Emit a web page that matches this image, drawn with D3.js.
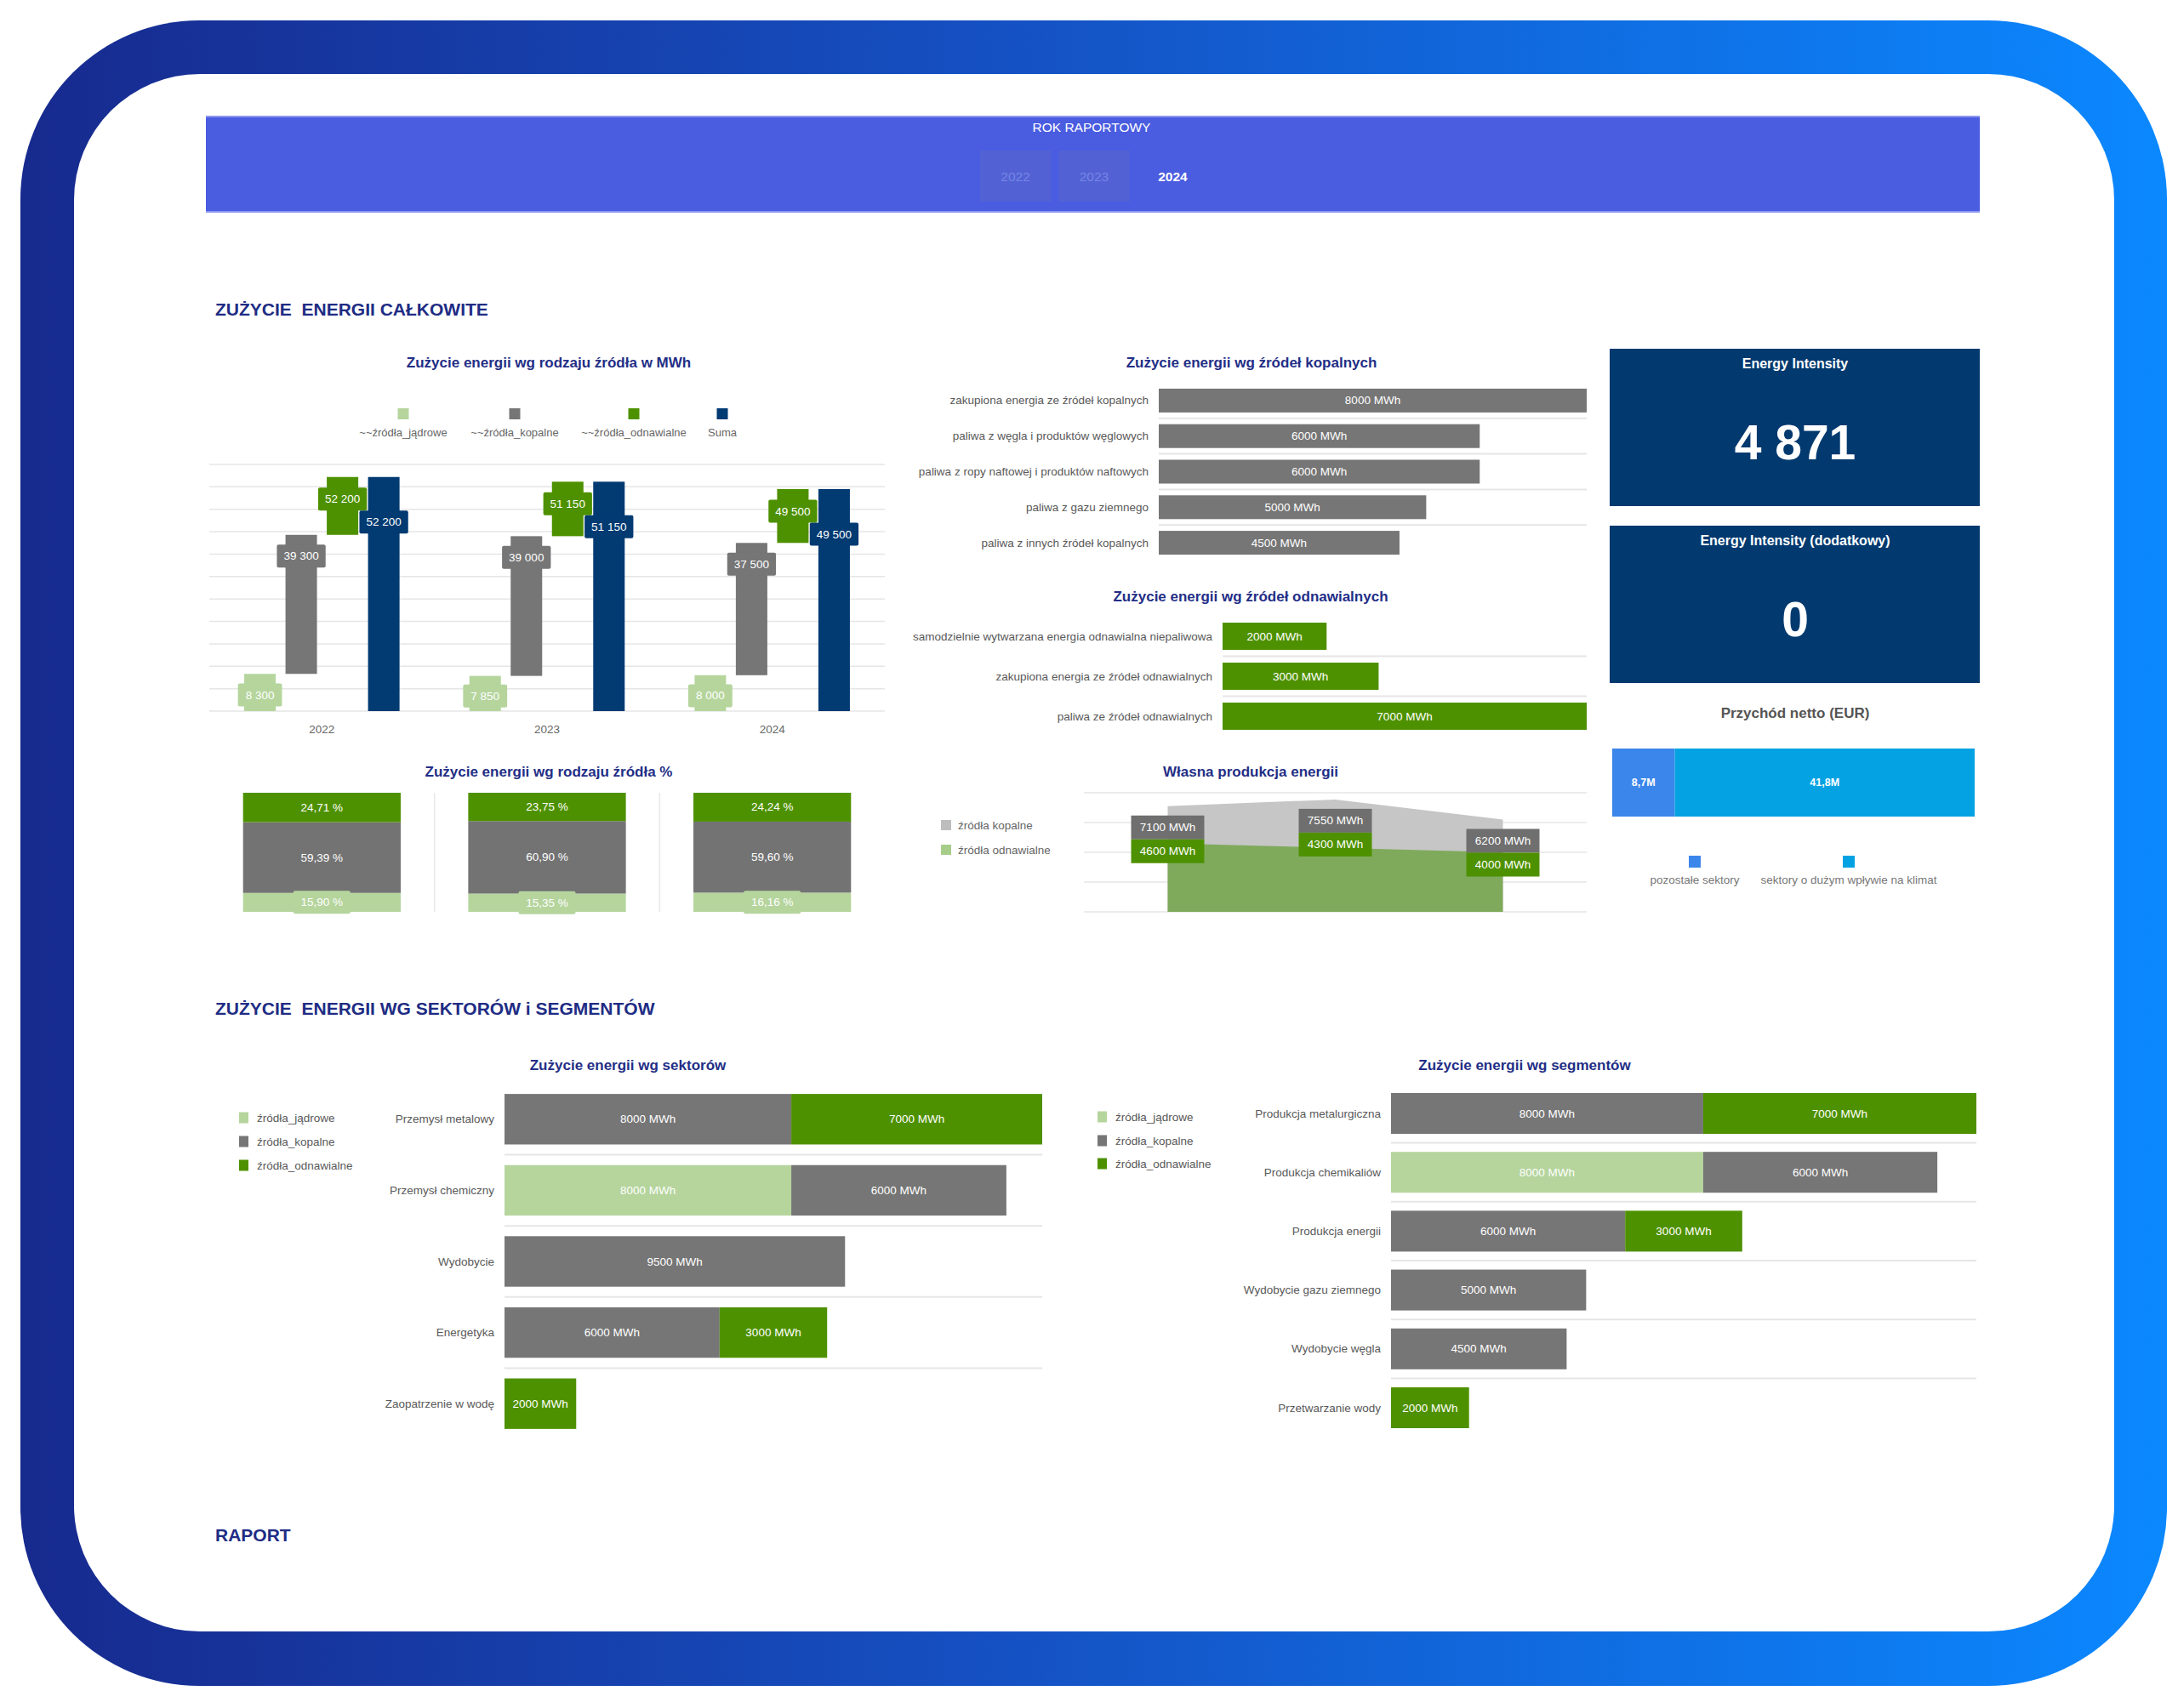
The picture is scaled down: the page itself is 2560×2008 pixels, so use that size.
<!DOCTYPE html>
<html><head><meta charset="utf-8">
<script src="https://cdn.jsdelivr.net/npm/d3@7"></script>
<style>
html,body{margin:0;padding:0;background:#fff;}
svg{display:block;font-family:"Liberation Sans",Arial,sans-serif;}
text{white-space:pre;}
</style></head><body>
<svg id="c" width="2560" height="2008"></svg>
<script>
// ---------------- DATA ----------------
const years = ["2022", "2023", "2024"];
const selectedYear = "2024";
const srcLegend = ["~~źródła_jądrowe", "~~źródła_kopalne", "~~źródła_odnawialne", "Suma"];
const nuclearMWh = [8300, 7850, 8000];
const fossilMWh = [31000, 31150, 29500];
const renewableMWh = [12900, 12150, 12000];

const fossilCats = ["zakupiona energia ze źródeł kopalnych", "paliwa z węgla i produktów węglowych",
  "paliwa z ropy naftowej i produktów naftowych", "paliwa z gazu ziemnego", "paliwa z innych źródeł kopalnych"];
const fossilVals = [8000, 6000, 6000, 5000, 4500];

const renewCats = ["samodzielnie wytwarzana energia odnawialna niepaliwowa",
  "zakupiona energia ze źródeł odnawialnych", "paliwa ze źródeł odnawialnych"];
const renewVals = [2000, 3000, 7000];

const kpiTitles = ["Energy Intensity", "Energy Intensity (dodatkowy)"];
const kpiValues = [4871, 0];

const revenueLabels = ["pozostałe sektory", "sektory o dużym wpływie na klimat"];
const revenueVals = [8.7, 41.8];

const ownLegend = ["źródła kopalne", "źródła odnawialne"];
const ownFossil = [7100, 7550, 6200];
const ownRenew = [4600, 4300, 4000];

const mixLegend = ["źródła_jądrowe", "źródła_kopalne", "źródła_odnawialne"];
const sectorCats = ["Przemysł metalowy", "Przemysł chemiczny", "Wydobycie", "Energetyka", "Zaopatrzenie w wodę"];
const sectorNuclear = [0, 8000, 0, 0, 0];
const sectorFossil = [8000, 6000, 9500, 6000, 0];
const sectorRenew = [7000, 0, 0, 3000, 2000];

const segmentCats = ["Produkcja metalurgiczna", "Produkcja chemikaliów", "Produkcja energii",
  "Wydobycie gazu ziemnego", "Wydobycie węgla", "Przetwarzanie wody"];
const segmentNuclear = [0, 8000, 0, 0, 0, 0];
const segmentFossil = [8000, 6000, 6000, 5000, 4500, 0];
const segmentRenew = [7000, 0, 3000, 0, 0, 2000];

// ---------------- STYLE ----------------
const C = {
  nuc: "#b5d59d", fos: "#767676", ren: "#4e9100", sum: "#023a72",
  navy: "#02396f", title: "#232e86", label: "#595959", grid: "#e6e6e6",
  ownFos: "#c6c6c6", ownRen: "#7faa5c", rev1: "#3b86ea", rev2: "#04a2e2"
};
const svg = d3.select("#c");
const fmtSp = v => d3.format(",")(v).replace(/,/g, " ");
const fmtPct = v => d3.format(".2f")(v).replace(".", ",") + " %";
const fmtMWh = v => v + " MWh";

function label(g, cx, cy, txt, bg, o = {}) {
  const grp = g.append("g");
  const r = grp.append("rect").attr("fill", bg);
  const t = grp.append("text").attr("x", cx).attr("y", cy)
    .attr("text-anchor", "middle").attr("dominant-baseline", "central")
    .attr("fill", o.color || "#fff").attr("font-size", o.size || 13.5).text(txt);
  const w = o.w || (t.node().getComputedTextLength() + (o.pad || 16));
  const h = o.h || 27;
  r.attr("x", cx - w / 2).attr("y", cy - h / 2).attr("width", w).attr("height", h).attr("rx", o.rx == null ? 2 : o.rx);
}
function title(x, y, txt, o = {}) {
  svg.append("text").attr("x", x).attr("y", y).attr("text-anchor", o.anchor || "middle")
    .attr("dominant-baseline", "central").attr("font-size", o.size || 17)
    .attr("font-weight", "bold").attr("fill", o.color || C.title).text(txt);
}

// ---------------- FRAME ----------------
const defs = svg.append("defs");
const grad = defs.append("linearGradient").attr("id", "fg").attr("x1", "0%").attr("x2", "100%").attr("y1", "0%").attr("y2", "0%");
grad.append("stop").attr("offset", "0%").attr("stop-color", "#172a8e");
grad.append("stop").attr("offset", "45%").attr("stop-color", "#1550c2");
grad.append("stop").attr("offset", "100%").attr("stop-color", "#0b88ff");
svg.append("rect").attr("x", 24).attr("y", 24).attr("width", 2523).attr("height", 1958).attr("rx", 210).attr("fill", "url(#fg)");
svg.append("rect").attr("x", 87).attr("y", 87).attr("width", 2398).attr("height", 1831).attr("rx", 148).attr("fill", "#fff");

// ---------------- HEADER ----------------
svg.append("rect").attr("x", 242).attr("y", 136).attr("width", 2085).attr("height", 114).attr("fill", "#4a5ce0");
svg.append("rect").attr("x", 242).attr("y", 136).attr("width", 2085).attr("height", 2).attr("fill", "#8a96ee");
svg.append("rect").attr("x", 242).attr("y", 248).attr("width", 2085).attr("height", 2).attr("fill", "#8a96ee");
svg.append("text").attr("x", 1283).attr("y", 149).attr("text-anchor", "middle").attr("dominant-baseline", "central")
  .attr("font-size", 15.5).attr("fill", "#fff").text("ROK RAPORTOWY");
const yb = d3.scaleBand().domain(years).range([1152, 1420]).paddingInner(0.1);
years.forEach(yr => {
  const sel = yr === selectedYear;
  if (!sel) svg.append("rect").attr("x", yb(yr)).attr("y", 177).attr("width", yb.bandwidth()).attr("height", 60).attr("fill", "#5262d4");
  svg.append("text").attr("x", yb(yr) + yb.bandwidth() / 2).attr("y", 207).attr("text-anchor", "middle")
    .attr("dominant-baseline", "central").attr("font-size", 15.5).attr("font-weight", sel ? "bold" : "normal")
    .attr("fill", sel ? "#fff" : "#7685e6").text(yr);
});

// ---------------- SECTION TITLES ----------------
title(253, 363, "ZUŻYCIE  ENERGII CAŁKOWITE", { anchor: "start", size: 21, color: "#202c84" });
title(253, 1185, "ZUŻYCIE  ENERGII WG SEKTORÓW i SEGMENTÓW", { anchor: "start", size: 21, color: "#202c84" });
title(253, 1804, "RAPORT", { anchor: "start", size: 21, color: "#202c84" });

// ---------------- CHART 1: waterfall by source ----------------
title(645, 426, "Zużycie energii wg rodzaju źródła w MWh");
{
  const g = svg.append("g");
  const x0 = d3.scaleBand().domain(years).range([246, 1040]);
  const y = d3.scaleLinear().domain([0, 55000]).range([836, 546]);
  const x1 = d3.scaleBand().domain(srcLegend).range([-97, 97]).paddingInner(0.237).paddingOuter(0.118);
  const lx = [474, 605, 745, 849];
  const colors = [C.nuc, C.fos, C.ren, C.sum];
  srcLegend.forEach((s, i) => {
    g.append("rect").attr("x", lx[i] - 6.5).attr("y", 480).attr("width", 13).attr("height", 13).attr("fill", colors[i]);
    g.append("text").attr("x", lx[i]).attr("y", 508).attr("text-anchor", "middle").attr("dominant-baseline", "central")
      .attr("font-size", 13).attr("fill", "#666").text(s);
  });
  y.ticks(11).forEach(t => {
    g.append("line").attr("x1", 246).attr("x2", 1040).attr("y1", y(t)).attr("y2", y(t)).attr("stroke", C.grid).attr("stroke-width", 1.5);
  });
  years.forEach((yr, i) => {
    const n = nuclearMWh[i], f = fossilMWh[i], r = renewableMWh[i], tot = n + f + r;
    const c = x0(yr) + x0.bandwidth() / 2;
    const segs = [[0, n], [n, n + f], [n + f, tot], [0, tot]];
    segs.forEach((s, k) => {
      g.append("rect").attr("x", c + x1(srcLegend[k])).attr("width", x1.bandwidth())
        .attr("y", y(s[1])).attr("height", y(s[0]) - y(s[1])).attr("fill", colors[k]);
    });
    label(g, c + x1(srcLegend[0]) + x1.bandwidth() / 2, y(n / 2) + 3, fmtSp(n), C.nuc, { pad: 18 });
    label(g, c + x1(srcLegend[1]) + x1.bandwidth() / 2, y(n + f) + 25, fmtSp(n + f), C.fos);
    label(g, c + x1(srcLegend[2]) + x1.bandwidth() / 2, y(tot) + 26, fmtSp(tot), C.ren);
    label(g, c + x1(srcLegend[3]) + x1.bandwidth() / 2, y(tot) + 53, fmtSp(tot), C.sum);
    g.append("text").attr("x", c).attr("y", 857).attr("text-anchor", "middle").attr("dominant-baseline", "central")
      .attr("font-size", 13.5).attr("fill", "#666").text(yr);
  });
}

// ---------------- CHART 2: % by source ----------------
title(645, 907, "Zużycie energii wg rodzaju źródła %");
{
  const g = svg.append("g");
  const x = d3.scaleBand().domain(years).range([246, 1040]).paddingInner(0.3).paddingOuter(0.15);
  const y = d3.scaleLinear().domain([0, 1]).range([1072, 932]);
  years.forEach((yr, i) => {
    const tot = nuclearMWh[i] + fossilMWh[i] + renewableMWh[i];
    const parts = [nuclearMWh[i] / tot, fossilMWh[i] / tot, renewableMWh[i] / tot];
    const cols = [C.nuc, "#737373", C.ren];
    let acc = 0;
    const cx = x(yr) + x.bandwidth() / 2;
    parts.forEach((p, k) => {
      g.append("rect").attr("x", x(yr)).attr("width", x.bandwidth()).attr("y", y(acc + p)).attr("height", y(acc) - y(acc + p)).attr("fill", cols[k]);
      acc += p;
    });
    acc = 0;
    parts.forEach((p, k) => {
      label(g, cx, y(acc + p / 2), fmtPct(p * 100), cols[k], { w: 67, h: 27 });
      acc += p;
    });
    if (i > 0) {
      const sx = x(yr) - x.step() * x.paddingInner() / 2;
      g.append("line").attr("x1", sx).attr("x2", sx).attr("y1", 932).attr("y2", 1072).attr("stroke", "#e8e8e8").attr("stroke-width", 1.5);
    }
  });
}

// ---------------- horizontal bar helper ----------------
function hbars(cfg) {
  const g = svg.append("g");
  const x = d3.scaleLinear().domain([0, cfg.max]).range([cfg.x0, cfg.x1]);
  const yb = d3.scaleBand().domain(cfg.cats).range(cfg.yr).paddingInner(cfg.pi).paddingOuter(cfg.pi / 2);
  cfg.cats.forEach((cat, i) => {
    if (i > 0) {
      const sy = yb(cat) - yb.step() * cfg.pi / 2;
      g.append("line").attr("x1", cfg.x0).attr("x2", cfg.x1).attr("y1", sy).attr("y2", sy).attr("stroke", "#e6e6e6").attr("stroke-width", 2);
    }
    const cy = yb(cat) + yb.bandwidth() / 2;
    g.append("text").attr("x", cfg.x0 - 12).attr("y", cy).attr("text-anchor", "end").attr("dominant-baseline", "central")
      .attr("font-size", 13.5).attr("fill", C.label).text(cat);
    let acc = 0;
    cfg.series.forEach((s, k) => {
      const v = s[i];
      if (!v) return;
      g.append("rect").attr("x", x(acc)).attr("width", x(acc + v) - x(acc)).attr("y", yb(cat)).attr("height", yb.bandwidth()).attr("fill", cfg.colors[k]);
      g.append("text").attr("x", (x(acc) + x(acc + v)) / 2).attr("y", cy).attr("text-anchor", "middle").attr("dominant-baseline", "central")
        .attr("font-size", 13.5).attr("fill", "#fff").text(fmtMWh(v));
      acc += v;
    });
  });
}

title(1471, 426, "Zużycie energii wg źródeł kopalnych");
hbars({ cats: fossilCats, series: [fossilVals], colors: [C.fos], max: 8000, x0: 1362, x1: 1865, yr: [450, 659], pi: 0.33 });
title(1470, 701, "Zużycie energii wg źródeł odnawialnych");
hbars({ cats: renewCats, series: [renewVals], colors: [C.ren], max: 7000, x0: 1437, x1: 1865, yr: [724.5, 865.5], pi: 0.32 });

// ---------------- KPI ----------------
[410, 618].forEach((top, i) => {
  svg.append("rect").attr("x", 1892).attr("y", top).attr("width", 435).attr("height", 185).attr("fill", C.navy);
  svg.append("text").attr("x", 2110).attr("y", top + 17).attr("text-anchor", "middle").attr("dominant-baseline", "central")
    .attr("font-size", 16).attr("font-weight", "bold").attr("fill", "#fff").text(kpiTitles[i]);
  svg.append("text").attr("x", 2110).attr("y", top + 110).attr("text-anchor", "middle").attr("dominant-baseline", "central")
    .attr("font-size", 57).attr("font-weight", "bold").attr("fill", "#fff").text(fmtSp(kpiValues[i]));
});

// ---------------- Revenue ----------------
title(2110, 838, "Przychód netto (EUR)", { color: "#555", size: 17 });
{
  const g = svg.append("g");
  const x = d3.scaleLinear().domain([0, d3.sum(revenueVals)]).range([1895, 2321]);
  const cols = [C.rev1, C.rev2];
  let acc = 0;
  revenueVals.forEach((v, k) => {
    g.append("rect").attr("x", x(acc)).attr("width", x(acc + v) - x(acc)).attr("y", 880).attr("height", 80).attr("fill", cols[k]);
    g.append("text").attr("x", (x(acc) + x(acc + v)) / 2).attr("y", 920).attr("text-anchor", "middle").attr("dominant-baseline", "central")
      .attr("font-size", 12.5).attr("font-weight", "bold").attr("fill", "#fff").text(String(v).replace(".", ",") + "M");
    acc += v;
  });
  const lx = [1992, 2173];
  revenueLabels.forEach((l, k) => {
    g.append("rect").attr("x", lx[k] - 7).attr("y", 1006).attr("width", 14).attr("height", 14).attr("fill", cols[k]);
    g.append("text").attr("x", lx[k]).attr("y", 1034).attr("text-anchor", "middle").attr("dominant-baseline", "central")
      .attr("font-size", 13.5).attr("fill", "#777").text(l);
  });
}

// ---------------- Own production area ----------------
title(1470, 907, "Własna produkcja energii");
{
  const g = svg.append("g");
  const x = d3.scalePoint().domain(years).range([1274, 1865]).padding(0.5);
  const y = d3.scaleLinear().domain([0, 8000]).range([1072, 932]);
  y.ticks(4).forEach(t => {
    g.append("line").attr("x1", 1274).attr("x2", 1865).attr("y1", y(t)).attr("y2", y(t)).attr("stroke", C.grid).attr("stroke-width", 1.5);
  });
  const area = d3.area().x((d, i) => x(years[i])).y0(y(0)).y1(d => y(d));
  g.append("path").attr("d", area(ownFossil)).attr("fill", C.ownFos);
  g.append("path").attr("d", area(ownRenew)).attr("fill", C.ownRen);
  years.forEach((yr, i) => {
    const gy = y(ownFossil[i]) + 25;
    label(g, x(yr), gy, fmtMWh(ownFossil[i]), "#6f6f6f", { w: 86, h: 28, rx: 0 });
    label(g, x(yr), gy + 28, fmtMWh(ownRenew[i]), C.ren, { w: 86, h: 28, rx: 0 });
  });
  const lc = ["#bdbdbd", "#a6cd8a"];
  ownLegend.forEach((l, k) => {
    g.append("rect").attr("x", 1106).attr("y", 964 + k * 29).attr("width", 12).attr("height", 12).attr("fill", lc[k]);
    g.append("text").attr("x", 1126).attr("y", 970 + k * 29).attr("dominant-baseline", "central")
      .attr("font-size", 13.5).attr("fill", "#666").text(l);
  });
}

// ---------------- Sectors & segments ----------------
function mixLegendAt(x, ys) {
  const cols = [C.nuc, C.fos, C.ren];
  mixLegend.forEach((l, k) => {
    svg.append("rect").attr("x", x).attr("y", ys[k] - 6.5).attr("width", 11).attr("height", 13).attr("fill", cols[k]);
    svg.append("text").attr("x", x + 21).attr("y", ys[k]).attr("dominant-baseline", "central")
      .attr("font-size", 13.5).attr("fill", C.label).text(l);
  });
}
title(738, 1252, "Zużycie energii wg sektorów");
mixLegendAt(281, [1314, 1342, 1370]);
hbars({ cats: sectorCats, series: [sectorNuclear, sectorFossil, sectorRenew], colors: [C.nuc, C.fos, C.ren],
  max: 15000, x0: 593, x1: 1225, yr: [1274, 1692], pi: 0.29 });

title(1792, 1252, "Zużycie energii wg segmentów");
mixLegendAt(1290, [1313, 1341, 1368]);
hbars({ cats: segmentCats, series: [segmentNuclear, segmentFossil, segmentRenew], colors: [C.nuc, C.fos, C.ren],
  max: 15000, x0: 1635, x1: 2323, yr: [1274.4, 1689.6], pi: 0.306 });
</script>
</body></html>
